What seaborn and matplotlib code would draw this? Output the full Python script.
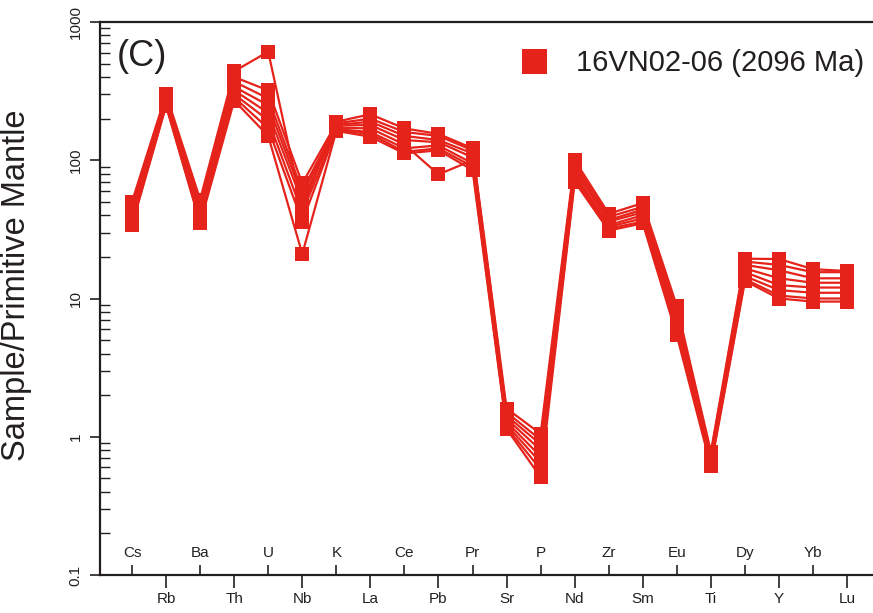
import numpy as np
import pandas as pd
import matplotlib
matplotlib.use("Agg")
import matplotlib.pyplot as plt
from matplotlib.lines import Line2D
from matplotlib.ticker import LogLocator, NullFormatter, FixedLocator
import seaborn as sns

elements = ["Cs", "Rb", "Ba", "Th", "U", "Nb", "K", "La", "Ce", "Pb", "Pr",
            "Sr", "P", "Nd", "Zr", "Sm", "Eu", "Ti", "Dy", "Y", "Yb", "Lu"]

s1 = [50, 300, 52, 440, 610, 45, 190, 215, 170, 155, 122, 1.60, 1.05, 100, 41, 49, 8.8, 0.78, 19.4, 19.3, 16.3, 15.8]
s2 = [46, 290, 48, 400, 320, 68, 185, 200, 160, 150, 118, 1.50, 0.95, 95, 39, 46, 8.0, 0.75, 18.5, 17.5, 15.5, 15.5]
s3 = [43, 280, 45, 370, 280, 60, 180, 190, 150, 140, 112, 1.42, 0.88, 90, 37, 44, 7.4, 0.72, 17.5, 16.0, 14.0, 14.0]
s4 = [41, 275, 42, 340, 250, 55, 178, 180, 140, 135, 105, 1.35, 0.80, 85, 36, 42, 7.0, 0.70, 16.5, 14.0, 13.0, 13.0]
s5 = [39, 265, 40, 320, 220, 50, 172, 170, 130, 79, 100, 1.28, 0.72, 80, 34, 40, 6.5, 0.68, 15.5, 12.5, 12.0, 12.0]
s6 = [37, 258, 38, 300, 195, 42, 168, 160, 122, 128, 95, 1.22, 0.65, 77, 33, 38, 6.0, 0.65, 14.5, 11.5, 11.0, 11.0]
s7 = [35, 250, 36, 285, 170, 36, 165, 155, 115, 122, 90, 1.17, 0.58, 73, 32, 36, 5.7, 0.63, 13.8, 10.5, 10.0, 10.0]
s8 = [34, 248, 35, 270, 150, 21, 163, 148, 112, 118, 85, 1.14, 0.51, 70, 31, 35, 5.4, 0.61, 13.4, 10.0, 9.5, 9.5]

samples = {"a": s1, "b": s2, "c": s3, "d": s4, "e": s5, "f": s6, "g": s7, "h": s8}
legend_label = "16VN02-06 (2096 Ma)"
ytick_vals = [0.1, 1, 10, 100, 1000]
ytick_labels = ["0.1", "1", "10", "100", "1000"]

rows = []
for name, vals in samples.items():
    for i, (el, v) in enumerate(zip(elements, vals)):
        rows.append({"sample": name, "pos": i, "element": el, "value": v})
df = pd.DataFrame(rows)

sns.set_style("ticks")
plt.rcParams["font.family"] = ["Liberation Sans", "DejaVu Sans"]

RED = "#E5231B"
DARK = "#231F20"

fig = plt.figure(figsize=(8.73, 6.13), dpi=100)
ax = fig.add_axes([100 / 873, 38 / 613, 773 / 873, 553 / 613])

sns.lineplot(data=df, x="pos", y="value", units="sample", estimator=None,
             sort=False, color=RED, lw=1.6, marker="s", markersize=9.5,
             markeredgewidth=0, legend=False, ax=ax)

ax.set_yscale("log")
ax.set_ylim(0.1, 1000)
ax.set_xlim(-0.94, 21.76)

# y ticks
ax.yaxis.set_major_locator(FixedLocator(ytick_vals))
ax.set_yticklabels(ytick_labels, fontsize=11, rotation=90, va="center")
ax.yaxis.set_minor_locator(LogLocator(base=10, subs=np.arange(2, 10)))
ax.yaxis.set_minor_formatter(NullFormatter())
ax.tick_params(axis="y", which="major", direction="out", length=7.5,
               width=1.2, color=DARK, pad=5, labelcolor=DARK)
ax.tick_params(axis="y", which="minor", direction="in", length=7,
               width=1.0, color=DARK)

# x ticks: odd below (out), even above (in)
odd = list(range(1, len(elements), 2))
even = list(range(0, len(elements), 2))
ax.set_xticks(odd)
ax.set_xticklabels([elements[i] for i in odd], fontsize=11)
ax.set_xticks(even, minor=True)
ax.set_xticklabels([elements[i] for i in even], minor=True, fontsize=11)
ax.tick_params(axis="x", which="major", direction="out", length=9.5,
               width=1.2, color=DARK, pad=3, labelcolor=DARK)
ax.tick_params(axis="x", which="minor", direction="in", length=7.5,
               width=1.2, color=DARK, pad=-21, labelcolor=DARK)

for side in ["left", "bottom", "top"]:
    ax.spines[side].set_linewidth(1.6)
    ax.spines[side].set_color(DARK)
ax.spines["right"].set_visible(False)

ax.set_xlabel("")
ax.set_ylabel("")
fig.text(17 / 873, 1 - 285 / 613, "Sample/Primitive Mantle", rotation=90,
         fontsize=23.5, color=DARK, ha="center", va="center")

ax.text(0.022, 0.9385, "(C)", transform=ax.transAxes, fontsize=26,
        color=DARK, ha="left", va="center")

handle = Line2D([], [], color=RED, marker="s", markersize=18, lw=0,
                markeredgewidth=0)
leg = ax.legend([handle], [legend_label], loc="center right",
                bbox_to_anchor=(864 / 873, 1 - 63 / 613),
                bbox_transform=fig.transFigure, frameon=False,
                fontsize=21, borderpad=0, borderaxespad=0,
                handlelength=1.0, handletextpad=0.95)
for t in leg.get_texts():
    t.set_color(DARK)

fig.savefig("out.png", dpi=100)
